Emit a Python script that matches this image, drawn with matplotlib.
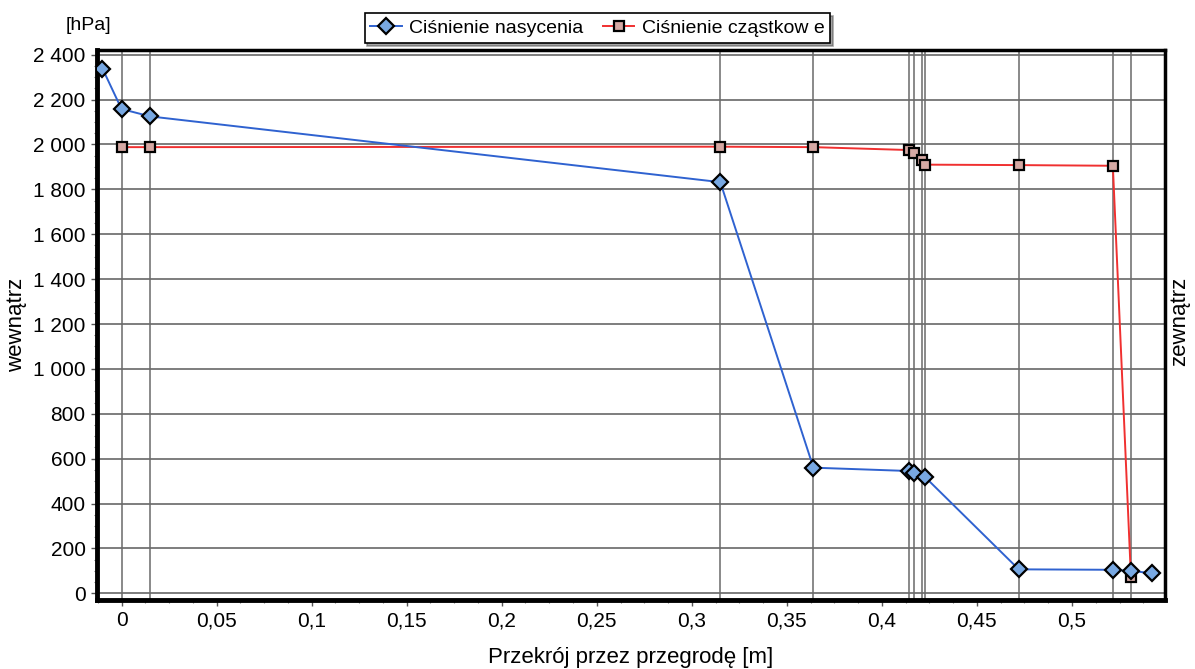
import matplotlib
matplotlib.use("Agg")
import matplotlib.pyplot as plt
from matplotlib.ticker import FuncFormatter, MultipleLocator

plt.rcParams["font.family"] = ["Liberation Sans", "DejaVu Sans"]

# Saturation pressure (blue diamonds)
sat_x = [-0.010, 0.0, 0.015, 0.315, 0.364, 0.4145, 0.417, 0.4225, 0.472, 0.5215, 0.531, 0.542]
sat_p = [2338, 2158, 2125, 1832, 560, 545, 538, 520, 107, 105, 100, 90]

# Partial pressure (red squares)
part_x = [0.0, 0.015, 0.315, 0.364, 0.4145, 0.417, 0.421, 0.4225, 0.472, 0.5215, 0.531]
part_p = [1988, 1988, 1990, 1988, 1975, 1962, 1930, 1910, 1908, 1905, 75]

# layer boundaries drawn as vertical grid lines
boundaries = part_x

y_ticks = list(range(0, 2401, 200))
x_ticks = [0, 0.05, 0.1, 0.15, 0.2, 0.25, 0.3, 0.35, 0.4, 0.45, 0.5]

fig = plt.figure(figsize=(11.95, 6.69), dpi=100, facecolor="white")
ax = fig.add_axes([0.081, 0.103, 0.894, 0.822])

for yt in y_ticks:
    ax.axhline(yt, color="#5a5a5a", lw=1.1, zorder=1)
for bx in boundaries:
    ax.axvline(bx, color="#6a6a6a", lw=1.1, zorder=1)

ax.plot(sat_x, sat_p, color="#2f62d0", lw=1.4, marker="D", markersize=8,
        markerfacecolor="#78a8e2", markeredgecolor="black", markeredgewidth=1.6,
        label="Ciśnienie nasycenia", zorder=4)
ax.plot(part_x, part_p, color="#f03030", lw=1.4, marker="s", markersize=7,
        markerfacecolor="#d6a9a4", markeredgecolor="black", markeredgewidth=1.6,
        label="Ciśnienie cząstkow e", zorder=3)

ax.set_xlim(-0.013, 0.549)
ax.set_ylim(-30, 2420)
ax.set_xticks(x_ticks)
ax.set_yticks(y_ticks)
ax.xaxis.set_minor_locator(MultipleLocator(0.0125))
ax.yaxis.set_minor_locator(MultipleLocator(50))

ax.xaxis.set_major_formatter(FuncFormatter(lambda v, p: f"{v:g}".replace(".", ",")))
ax.yaxis.set_major_formatter(FuncFormatter(lambda v, p: f"{int(round(v)):,}".replace(",", " ")))
ax.tick_params(axis="both", which="major", labelsize=15, length=4, width=1, color="#555555", pad=4)
ax.tick_params(axis="both", which="minor", length=2, width=0.8, color="#777777")

for side in ["top", "right", "left", "bottom"]:
    ax.spines[side].set_linewidth(2.5)
    ax.spines[side].set_color("black")
ax.spines["left"].set_linewidth(3.5)
ax.spines["bottom"].set_linewidth(3.5)

ax.set_xlabel("Przekrój przez przegrodę [m]", fontsize=16, labelpad=12)
ax.set_ylabel("wewnątrz", fontsize=16, labelpad=4)
fig.text(0.074, 0.962, "[hPa]", fontsize=14, ha="center", va="center")
fig.text(0.987, 0.52, "zewnątrz", fontsize=16, rotation=90, ha="center", va="center")

leg = fig.legend(loc="center", bbox_to_anchor=(0.5, 0.958), ncol=2, fontsize=14,
                 frameon=True, fancybox=False, shadow=True, edgecolor="black",
                 handlelength=1.6, columnspacing=1.0, borderpad=0.3, handletextpad=0.4)
leg.get_frame().set_linewidth(1.2)

fig.savefig("out.png", dpi=100, facecolor="white")
